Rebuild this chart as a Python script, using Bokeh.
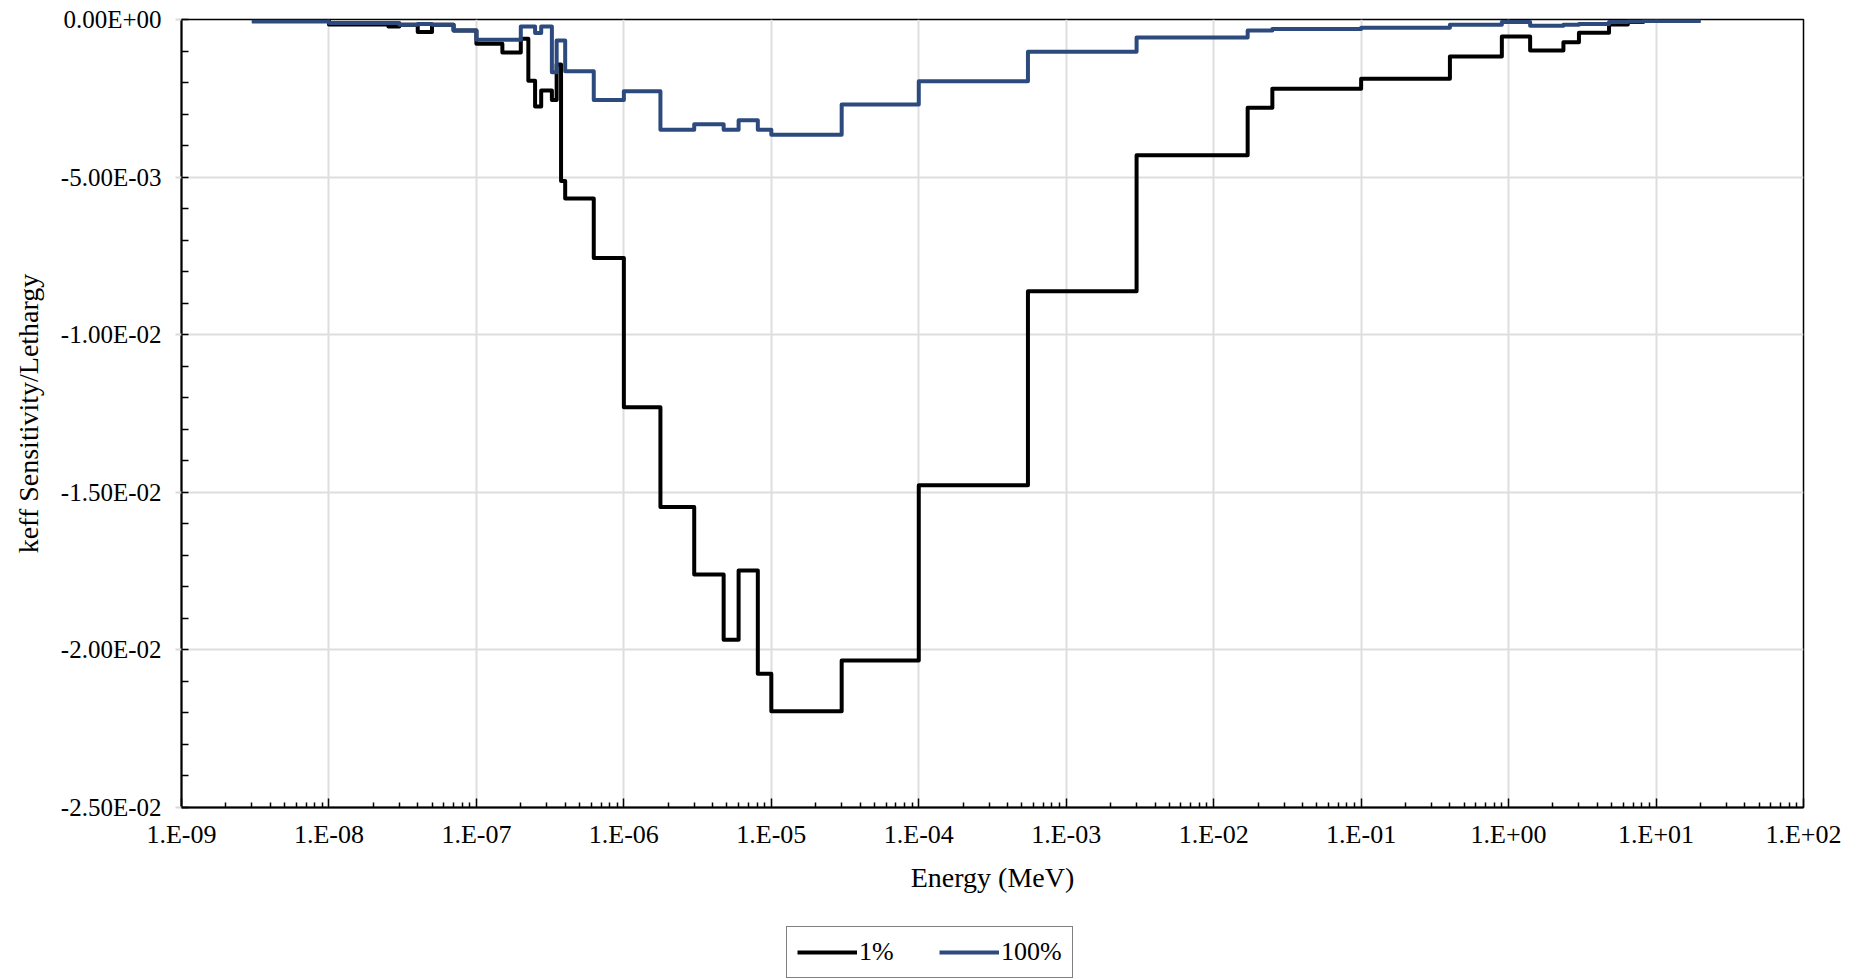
from bokeh.plotting import figure
from bokeh.layouts import column
from bokeh.models import (FixedTicker, CustomJSTickFormatter, Legend, LegendItem, Range1d)
from bokeh.embed import file_html
from bokeh.resources import INLINE

# Energy group boundaries (MeV)
energy_edges = [3e-9, 1e-8, 2.53e-8, 3e-8, 4e-8, 5e-8, 7e-8, 1e-7, 1.5e-7, 2e-7,
                2.25e-7, 2.5e-7, 2.75e-7, 3.25e-7, 3.5e-7, 3.75e-7, 4e-7, 6.25e-7,
                1e-6, 1.77e-6, 3e-6, 4.75e-6, 6e-6, 8.1e-6, 1e-5, 3e-5, 1e-4, 5.5e-4,
                3e-3, 1.7e-2, 2.5e-2, 1e-1, 4e-1, 9e-1, 1.4, 1.85, 2.354, 2.479, 3.0,
                4.8, 6.434, 8.187, 20.0]

# keff sensitivity per lethargy, 1% case
sens_1pct = [-0.00003, -0.00016, -0.00022, -0.00017, -0.00040, -0.00017, -0.00035,
             -0.00077, -0.00105, -0.00061, -0.00194, -0.00276, -0.00225, -0.00255,
             -0.00143, -0.00512, -0.00568, -0.00757, -0.01230, -0.01547, -0.01761,
             -0.01968, -0.01748, -0.02076, -0.02195, -0.02034, -0.01478, -0.00862,
             -0.00431, -0.00280, -0.00220, -0.00188, -0.00117, -0.00054, -0.00098,
             -0.00098, -0.00072, -0.00072, -0.00042, -0.00016, -0.00008, -0.00005]

# keff sensitivity per lethargy, 100% case
sens_100pct = [-0.00006, -0.00011, -0.00011, -0.00017, -0.00014, -0.00017, -0.00035,
               -0.00064, -0.00064, -0.00022, -0.00022, -0.00043, -0.00022, -0.00167,
               -0.00067, -0.00067, -0.00164, -0.00255, -0.00228, -0.00350, -0.00332,
               -0.00350, -0.00320, -0.00350, -0.00366, -0.00270, -0.00196, -0.00102,
               -0.00057, -0.00035, -0.00030, -0.00026, -0.00017, -0.00008, -0.00020,
               -0.00020, -0.00017, -0.00017, -0.00014, -0.00008, -0.00006, -0.00005]

series_names = ["1%", "100%"]
series_colors = ["#000000", "#2C4A7E"]
all_series = [sens_1pct, sens_100pct]

x_tick_values = [1e-9, 1e-8, 1e-7, 1e-6, 1e-5, 1e-4, 1e-3, 1e-2, 1e-1, 1e0, 1e1, 1e2]
x_tick_labels = ["1.E-09", "1.E-08", "1.E-07", "1.E-06", "1.E-05", "1.E-04",
                 "1.E-03", "1.E-02", "1.E-01", "1.E+00", "1.E+01", "1.E+02"]
y_tick_values = [0.0, -0.005, -0.010, -0.015, -0.020, -0.025]
y_tick_labels = ["0.00E+00", "-5.00E-03", "-1.00E-02", "-1.50E-02", "-2.00E-02", "-2.50E-02"]

FONT = "Liberation Serif"
W = 1868
H_MAIN = 920
H_LEG = 59

p = figure(width=W, height=H_MAIN, x_axis_type="log", output_backend="svg",
           toolbar_location=None,
           x_range=Range1d(1e-9, 1e2), y_range=Range1d(-0.025, 0.0),
           min_border_left=181, min_border_right=65, min_border_top=19,
           min_border_bottom=113)
p.background_fill_color = "white"
p.border_fill_color = "white"
p.outline_line_color = "black"
p.outline_line_width = 1.5

for vals, col in zip(all_series, series_colors):
    p.step(x=energy_edges, y=list(vals) + [vals[-1]], mode="after",
           line_color=col, line_width=4, line_join="round")

# minor ticks
x_minor = []
for t in x_tick_values[:-1]:
    for k in range(2, 10):
        x_minor.append(t * k)
y_minor = [-0.001 * i for i in range(0, 26)]

p.xaxis.ticker = FixedTicker(ticks=x_tick_values, minor_ticks=x_minor)
p.yaxis.ticker = FixedTicker(ticks=y_tick_values, minor_ticks=y_minor)

p.xaxis.formatter = CustomJSTickFormatter(args=dict(vals=x_tick_values, labels=x_tick_labels), code="""
let best = 0, bd = Infinity;
for (let i = 0; i < vals.length; i++) {
  const d = Math.abs(Math.log10(vals[i]) - Math.log10(tick));
  if (d < bd) { bd = d; best = i; }
}
return labels[best];
""")
p.yaxis.formatter = CustomJSTickFormatter(args=dict(vals=y_tick_values, labels=y_tick_labels), code="""
let best = 0, bd = Infinity;
for (let i = 0; i < vals.length; i++) {
  const d = Math.abs(vals[i] - tick);
  if (d < bd) { bd = d; best = i; }
}
return labels[best];
""")

for ax in [p.xaxis[0], p.yaxis[0]]:
    ax.axis_line_color = "black"
    ax.axis_line_width = 2
    ax.major_label_text_font = FONT
    ax.major_label_text_color = "black"
    ax.axis_label_text_font = FONT
    ax.axis_label_text_font_style = "normal"
    ax.axis_label_text_color = "black"
    ax.minor_tick_line_color = "black"
    ax.minor_tick_line_width = 1.5

p.xaxis.axis_label = "Energy (MeV)"
p.xaxis.axis_label_text_font_size = "28px"
p.xaxis.major_label_text_font_size = "26px"
p.xaxis.major_tick_in = 9
p.xaxis.major_tick_out = 0
p.xaxis.major_tick_line_color = "black"
p.xaxis.major_tick_line_width = 1.5
p.xaxis.minor_tick_in = 5
p.xaxis.minor_tick_out = 0
p.xaxis.major_label_standoff = 12
p.xaxis.axis_label_standoff = 10

p.yaxis.axis_label = "keff Sensitivity/Lethargy"
p.yaxis.axis_label_text_font_size = "28px"
p.yaxis.major_label_text_font_size = "25px"
p.yaxis.major_tick_in = 0
p.yaxis.major_tick_out = 6
p.yaxis.major_tick_line_color = "#D9D9D9"
p.yaxis.major_tick_line_width = 2
p.yaxis.minor_tick_in = 7
p.yaxis.minor_tick_out = 0
p.yaxis.major_label_standoff = 14
p.yaxis.axis_label_standoff = 14

p.xgrid.grid_line_color = "#DEDEDE"
p.xgrid.grid_line_width = 2
p.ygrid.grid_line_color = "#DEDEDE"
p.ygrid.grid_line_width = 2

# Legend strip below the chart: same series drawn outside its visible range,
# so only the legend entries show.
pl = figure(width=W, height=H_LEG, output_backend="svg", toolbar_location=None,
            x_range=Range1d(0, 1), y_range=Range1d(1, 2),
            x_axis_location=None, y_axis_location=None,
            min_border=0, min_border_left=0, min_border_right=0,
            min_border_top=0, min_border_bottom=0)
pl.grid.visible = False
pl.outline_line_color = None
pl.background_fill_color = "white"
pl.border_fill_color = "white"
leg_renderers = []
for vals, col in zip(all_series, series_colors):
    r = pl.step(x=energy_edges, y=list(vals) + [vals[-1]], mode="after",
                line_color=col, line_width=4)
    leg_renderers.append(r)

legend = Legend(items=[LegendItem(label=n, renderers=[r]) for n, r in zip(series_names, leg_renderers)],
                orientation="horizontal", location=(605, 1))
legend.label_text_font = FONT
legend.label_text_font_size = "26px"
legend.label_text_color = "black"
legend.glyph_width = 60
legend.glyph_height = 24
legend.label_standoff = 2
legend.label_width = 61
legend.spacing = 19
legend.padding = 10
legend.margin = 0
legend.border_line_color = "black"
legend.border_line_width = 1.5
legend.background_fill_color = "white"
legend.background_fill_alpha = 1.0
pl.add_layout(legend, "center")

layout = column(p, pl, spacing=0)
open("out.html", "w").write(file_html(layout, INLINE))
